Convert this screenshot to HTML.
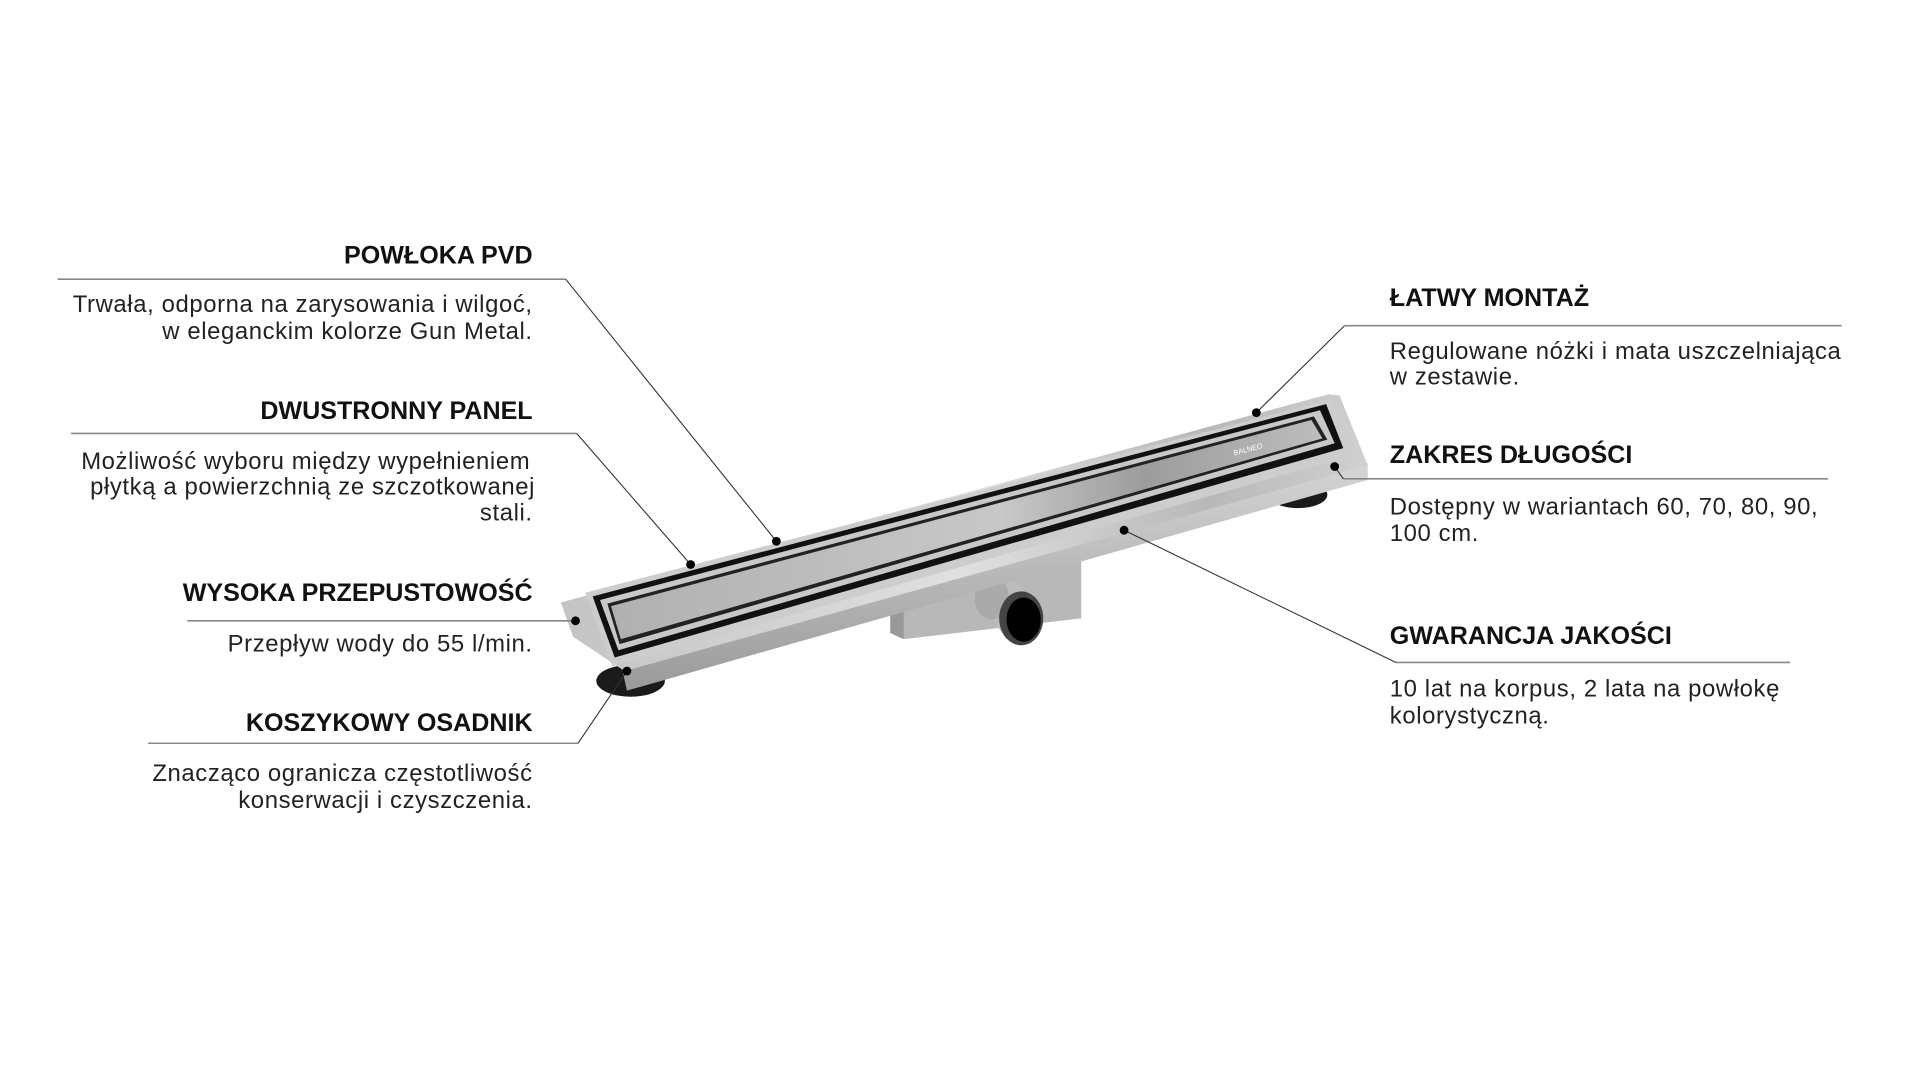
<!DOCTYPE html>
<html><head><meta charset="utf-8"><style>
html,body{margin:0;padding:0;background:#fff;}
svg{display:block;}
.h{font-family:"Liberation Sans",sans-serif;font-weight:bold;font-size:20.5px;fill:#111;}
.b{font-family:"Liberation Sans",sans-serif;font-size:19.5px;letter-spacing:0.5px;fill:#222;}
.l{stroke:#888;stroke-width:1.3;fill:none;}
.d{stroke:#333;stroke-width:0.9;fill:none;}
</style></head><body>
<svg width="1920" height="1080" viewBox="0 0 1568 882" xmlns="http://www.w3.org/2000/svg">
<defs>
<linearGradient id="g1" x1="0" y1="0" x2="1" y2="0">
<stop offset="0" stop-color="#c4c4c4"/><stop offset="0.5" stop-color="#e0e0e0"/><stop offset="0.8" stop-color="#b8b8b8"/><stop offset="1" stop-color="#d0d0d0"/></linearGradient>
<linearGradient id="gp" x1="0" y1="0" x2="1" y2="0">
<stop offset="0" stop-color="#b0b0b0"/><stop offset="0.55" stop-color="#c8c8c8"/><stop offset="0.75" stop-color="#9c9c9c"/><stop offset="1" stop-color="#bdbdbd"/></linearGradient>
<linearGradient id="g2" x1="0" y1="0" x2="0" y2="1">
<stop offset="0" stop-color="#d5d5d5"/><stop offset="1" stop-color="#9a9a9a"/></linearGradient>
</defs>
<!-- feet -->
<ellipse cx="515" cy="556" rx="28" ry="13" fill="#1a1a1a"/>
<ellipse cx="1060" cy="404" rx="24" ry="11" fill="#1a1a1a"/>
<!-- outlet box -->
<polygon points="727,488 883,446 883,505 738,522" fill="#b8b8b8"/>
<polygon points="727,488 738,492 738,522 727,517" fill="#999"/>
<!-- pipe -->
<polygon points="796,485 824,466 850,502 822,522" fill="#bdbdbd"/>
<ellipse cx="810" cy="488" rx="14" ry="18" fill="#aaa"/>
<ellipse cx="834" cy="505" rx="18" ry="22" fill="#444"/>
<ellipse cx="836" cy="506" rx="14" ry="18" fill="#000"/>
<!-- body side -->
<polygon points="508,546 1117,378 1117,392 512,564" fill="url(#g2)"/>
<!-- flange -->
<polygon points="458,492 1085,322 1094,323 1117,380 510,548 468,520" fill="url(#g1)"/>
<polygon points="478,484 1088,326 1104,372 500,544" fill="#cdcdcd"/>
<!-- grate black -->
<polygon points="484,487 1083,330 1097,366 502,537" fill="#111"/>
<polygon points="490,490 1078,335 1090,362 505,531" fill="#c8c8c8"/>
<polygon points="496,493 1073,340 1084,359 506,526" fill="#222"/>
<polygon points="499,495 1071,343 1080,358 507,522" fill="url(#gp)"/>
<text x="1008" y="372" font-family="Liberation Sans,sans-serif" font-size="6" fill="#fff" transform="rotate(-15 1008 372)">BALNEO</text>

<!-- left labels -->
<text class="h" x="435" y="215" text-anchor="end">POWŁOKA PVD</text>
<path class="l" d="M47 228 H462"/><path class="d" d="M462 228 L634 442"/>
<circle cx="634" cy="442" r="3.6" fill="#000"/>
<text class="b" x="435" y="255" text-anchor="end">Trwała, odporna na zarysowania i wilgoć,</text>
<text class="b" x="435" y="277" text-anchor="end">w eleganckim kolorze Gun Metal.</text>

<text class="h" x="435" y="342" text-anchor="end">DWUSTRONNY PANEL</text>
<path class="l" d="M58 354 H471"/><path class="d" d="M471 354 L564 461"/>
<circle cx="564" cy="461" r="3.6" fill="#000"/>
<text class="b" x="433" y="383" text-anchor="end">Możliwość wyboru między wypełnieniem</text>
<text class="b" x="437" y="404" text-anchor="end">płytką a powierzchnią ze szczotkowanej</text>
<text class="b" x="435" y="425" text-anchor="end">stali.</text>

<text class="h" x="435" y="491" text-anchor="end">WYSOKA PRZEPUSTOWOŚĆ</text>
<path class="l" d="M153 507 H469"/>
<circle cx="470" cy="507" r="3.6" fill="#000"/>
<text class="b" x="435" y="532" text-anchor="end">Przepływ wody do 55 l/min.</text>

<text class="h" x="435" y="597" text-anchor="end">KOSZYKOWY OSADNIK</text>
<path class="l" d="M121 607 H472"/><path class="d" d="M472 607 L512 548"/>
<circle cx="512" cy="548" r="3.6" fill="#000"/>
<text class="b" x="435" y="638" text-anchor="end">Znacząco ogranicza częstotliwość</text>
<text class="b" x="435" y="660" text-anchor="end">konserwacji i czyszczenia.</text>

<!-- right labels -->
<text class="h" x="1135" y="250">ŁATWY MONTAŻ</text>
<path class="l" d="M1098 266 H1504"/><path class="d" d="M1098 266 L1026 337"/>
<circle cx="1026" cy="337" r="3.6" fill="#000"/>
<text class="b" x="1135" y="293">Regulowane nóżki i mata uszczelniająca</text>
<text class="b" x="1135" y="314">w zestawie.</text>

<text class="h" x="1135" y="378">ZAKRES DŁUGOŚCI</text>
<path class="l" d="M1097 391 H1493"/><path class="d" d="M1097 391 L1090 381"/>
<circle cx="1090" cy="381" r="3.6" fill="#000"/>
<text class="b" x="1135" y="420">Dostępny w wariantach 60, 70, 80, 90,</text>
<text class="b" x="1135" y="442">100 cm.</text>

<text class="h" x="1135" y="526">GWARANCJA JAKOŚCI</text>
<path class="l" d="M1140 541 H1462"/><path class="d" d="M1140 541 L918 433"/>
<circle cx="918" cy="433" r="3.6" fill="#000"/>
<text class="b" x="1135" y="569">10 lat na korpus, 2 lata na powłokę</text>
<text class="b" x="1135" y="591">kolorystyczną.</text>
</svg>
</body></html>
